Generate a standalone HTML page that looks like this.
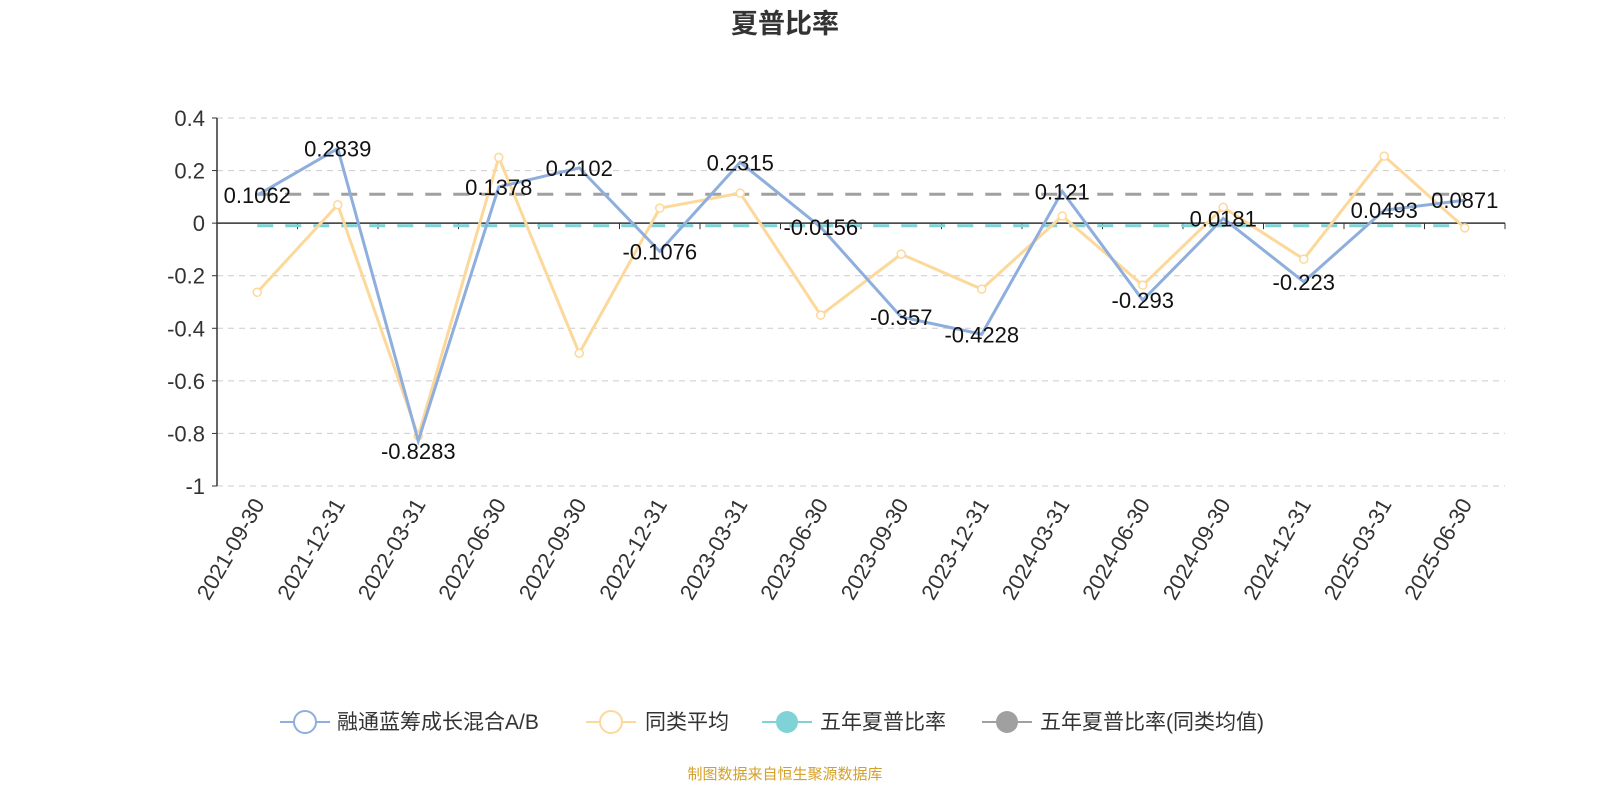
<!DOCTYPE html>
<html><head><meta charset="utf-8"><style>
body{margin:0;background:#fff;}
svg text{font-family:"Liberation Sans","Noto Sans CJK SC",sans-serif;}
</style></head><body>
<svg id="c" width="1600" height="800" xmlns="http://www.w3.org/2000/svg">
<text x="785" y="33" text-anchor="middle" font-size="27" font-weight="bold" fill="#333">夏普比率</text>
<g id="grid"></g><g id="axes"></g><g id="series"></g><g id="labels"></g>
<g font-size="21" fill="#333">
 <g><line x1="280" y1="722" x2="330" y2="722" stroke="#8eaedd" stroke-width="2"/><circle cx="305" cy="722" r="11" fill="#fff" stroke="#8eaedd" stroke-width="2"/><text x="337" y="729">融通蓝筹成长混合A/B</text></g>
 <g><line x1="586" y1="722" x2="636" y2="722" stroke="#fdd89b" stroke-width="2"/><circle cx="611" cy="722" r="11" fill="#fff" stroke="#fdd89b" stroke-width="2"/><text x="645" y="729">同类平均</text></g>
 <g><line x1="762" y1="722" x2="812" y2="722" stroke="#7fd3d6" stroke-width="2"/><circle cx="787" cy="722" r="11" fill="#7fd3d6"/><text x="820" y="729">五年夏普比率</text></g>
 <g><line x1="982" y1="722" x2="1032" y2="722" stroke="#a0a0a0" stroke-width="2"/><circle cx="1007" cy="722" r="11" fill="#a0a0a0"/><text x="1040" y="729">五年夏普比率(同类均值)</text></g>
</g>
<text x="785" y="779" text-anchor="middle" font-size="15" fill="#d4a02a">制图数据来自恒生聚源数据库</text>
</svg>
<script>
const categories=["2021-09-30","2021-12-31","2022-03-31","2022-06-30","2022-09-30","2022-12-31","2023-03-31","2023-06-30","2023-09-30","2023-12-31","2024-03-31","2024-06-30","2024-09-30","2024-12-31","2025-03-31","2025-06-30"];
const fundValues=[0.1062,0.2839,-0.8283,0.1378,0.2102,-0.1076,0.2315,-0.0156,-0.357,-0.4228,0.121,-0.293,0.0181,-0.223,0.0493,0.0871];
const fundLabels=["0.1062","0.2839","-0.8283","0.1378","0.2102","-0.1076","0.2315","-0.0156","-0.357","-0.4228","0.121","-0.293","0.0181","-0.223","0.0493","0.0871"];
const peerValues=[-0.263,0.07,-0.81,0.25,-0.495,0.057,0.114,-0.35,-0.118,-0.251,0.027,-0.236,0.06,-0.137,0.255,-0.018];
const fiveYear=-0.01;
const fiveYearPeer=0.11;
const yTicks=[0.4,0.2,0,-0.2,-0.4,-0.6,-0.8,-1];
const yTickLabels=["0.4","0.2","0","-0.2","-0.4","-0.6","-0.8","-1"];
const X0=217,X1=1505,Y0=118,Y1=486,vMax=0.4,vMin=-1;
const step=(X1-X0)/categories.length;
const x=i=>X0+step*(i+0.5);
const y=v=>Y0+(vMax-v)/(vMax-vMin)*(Y1-Y0);
const NS="http://www.w3.org/2000/svg";
function mk(p,t,a){const e=document.createElementNS(NS,t);for(const k in a)e.setAttribute(k,a[k]);document.getElementById(p).appendChild(e);return e;}
yTicks.forEach((v,i)=>{
 if(v!==0){const g=mk('grid','line',{x1:X0,x2:X1,y1:y(v),y2:y(v),stroke:'#ccc','stroke-dasharray':'6,5'});
 
 }
 const t=mk('axes','text',{x:X0-12,y:y(v)+8,'text-anchor':'end','font-size':22,fill:'#333'});t.textContent=yTickLabels[i];
 
 
 mk('axes','line',{x1:X0-5,x2:X0,y1:y(v),y2:y(v),stroke:'#333'});
});
const ya=mk('axes','line',{x1:X0,x2:X0,y1:Y0,y2:Y1,stroke:'#333','stroke-width':1.5});


const xa=mk('axes','line',{x1:X0,x2:X1,y1:y(0),y2:y(0),stroke:'#333','stroke-width':1.5});


for(let i=0;i<=categories.length;i++)mk('axes','line',{x1:X0+step*i,x2:X0+step*i,y1:y(0),y2:y(0)+6,stroke:'#333'});
categories.forEach((c,i)=>{
 const t=mk('axes','text',{x:x(i)+8,y:Y1+18,'text-anchor':'end','font-size':22,fill:'#333',transform:`rotate(-60 ${x(i)+8} ${Y1+18})`});t.textContent=c;
 
 
});
const l1=mk('series','line',{x1:x(0),x2:x(categories.length-1),y1:y(fiveYear),y2:y(fiveYear),stroke:'#7fd3d6','stroke-width':3,'stroke-dasharray':'16,12'});


const l2=mk('series','line',{x1:x(0),x2:x(categories.length-1),y1:y(fiveYearPeer),y2:y(fiveYearPeer),stroke:'#a0a0a0','stroke-width':3,'stroke-dasharray':'16,12'});


const pp=mk('series','polyline',{points:peerValues.map((v,i)=>x(i)+','+y(v)).join(' '),fill:'none',stroke:'#fdd89b','stroke-width':3});


peerValues.forEach((v,i)=>{const c=mk('series','circle',{cx:x(i),cy:y(v),r:4,fill:'#fff',stroke:'#fdd89b','stroke-width':1.5});
 
 });
const fp=mk('series','polyline',{points:fundValues.map((v,i)=>x(i)+','+y(v)).join(' '),fill:'none',stroke:'#8eaedd','stroke-width':3});


fundValues.forEach((v,i)=>{
 const t=mk('labels','text',{x:x(i),y:y(v)+8+(v<-0.6?10:0),'text-anchor':'middle','font-size':22,fill:'#111'});
 t.textContent=fundLabels[i];
 
 });
</script>
</body></html>
